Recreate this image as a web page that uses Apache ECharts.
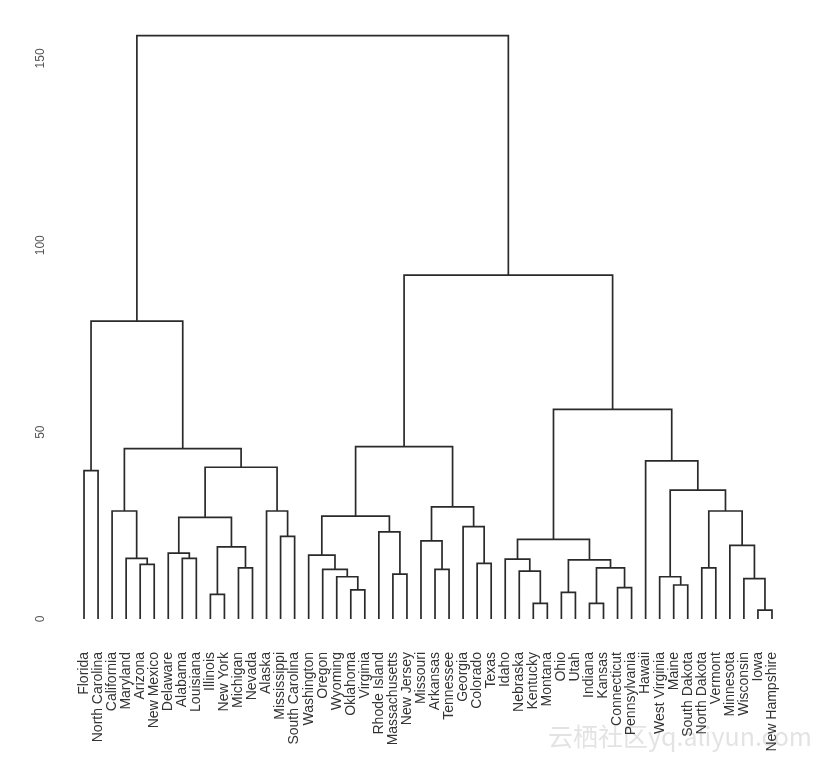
<!DOCTYPE html>
<html>
<head>
<meta charset="utf-8">
<script src="https://cdn.jsdelivr.net/npm/echarts@6/dist/echarts.min.js"></script>
<style>html,body{margin:0;padding:0;background:#fff;}#chart{width:833px;height:763px;}</style>
</head>
<body>
<div id="chart"></div>
<script>
// Leaf order (left to right)
const states = ["Florida","North Carolina","California","Maryland","Arizona","New Mexico","Delaware","Alabama","Louisiana","Illinois","New York","Michigan","Nevada","Alaska","Mississippi","South Carolina","Washington","Oregon","Wyoming","Oklahoma","Virginia","Rhode Island","Massachusetts","New Jersey","Missouri","Arkansas","Tennessee","Georgia","Colorado","Texas","Idaho","Nebraska","Kentucky","Montana","Ohio","Utah","Indiana","Kansas","Connecticut","Pennsylvania","Hawaii","West Virginia","Maine","South Dakota","North Dakota","Vermont","Minnesota","Wisconsin","Iowa","New Hampshire"];

// Merge steps: a string is a leaf (state), a number is an earlier merge row
const mergeLeft  = ["Florida","Arizona","Maryland","California","Alabama","Delaware","Illinois","Michigan",6,5,"Mississippi","Alaska",9,3,0,"Oklahoma","Wyoming","Oregon","Washington","Massachusetts","Rhode Island",18,"Arkansas","Missouri","Colorado","Georgia",23,21,"Kentucky","Nebraska","Idaho","Ohio","Indiana","Connecticut",32,31,30,"Maine","West Virginia","North Dakota","Iowa","Wisconsin","Minnesota",39,38,"Hawaii",36,27,14];
const mergeRight = ["North Carolina","New Mexico",1,2,"Louisiana",4,"New York","Nevada",7,8,"South Carolina",10,11,12,13,"Virginia",15,16,17,"New Jersey",19,20,"Tennessee",22,"Texas",24,25,26,"Montana",28,29,"Utah","Kansas","Pennsylvania",33,34,35,"South Dakota",37,"Vermont","New Hampshire",40,41,42,43,44,45,46,47];
const mergeHeight = [39.7,14.6,16.2,28.9,16.2,17.6,6.6,13.7,19.3,27.2,22.1,28.9,40.6,45.6,79.7,7.8,11.3,13.3,17.1,12.0,23.3,27.5,13.3,20.9,14.9,24.7,30.0,46.1,4.2,12.8,16.0,7.1,4.2,8.4,13.7,15.8,21.3,9.1,11.3,13.7,2.4,10.8,19.7,28.9,34.5,42.3,56.1,92.0,156.1];

const yTicks = [0, 50, 100, 150];

// Build link data from merges: [xLeft, hLeft, xRight, hRight, h]
const nodeX = [], links = [];
function pos(ref) {
  if (typeof ref === 'string') return [states.indexOf(ref), 0];
  return [nodeX[ref], mergeHeight[ref]];
}
for (let i = 0; i < mergeHeight.length; i++) {
  const L = pos(mergeLeft[i]), R = pos(mergeRight[i]);
  nodeX[i] = (L[0] + R[0]) / 2;
  links.push([L[0], L[1], R[0], R[1], mergeHeight[i]]);
}

const chart = echarts.init(document.getElementById('chart'), null, {renderer: 'canvas'});
chart.setOption({
  backgroundColor: '#fff',
  animation: false,
  grid: {left: 77, right: 54, top: 21, bottom: 144},
  xAxis: [{
    type: 'category', data: states, boundaryGap: true,
    axisLine: {show: false}, axisTick: {show: false}, splitLine: {show: false},
    axisLabel: {rotate: 90, margin: 33, interval: 0, fontSize: 14, color: '#333', fontFamily: 'Liberation Sans'}
  }, {
    type: 'value', min: -0.5, max: states.length - 0.5, show: false,
    axisLine: {show: false}, axisTick: {show: false}, splitLine: {show: false}, axisLabel: {show: false}
  }],
  yAxis: {
    type: 'value', min: 0, max: 160, interval: 50,
    axisLine: {show: false}, axisTick: {show: false}, splitLine: {show: false},
    axisLabel: {rotate: 90, margin: 30, fontSize: 12, color: '#555', fontFamily: 'Liberation Sans', showMaxLabel: false,
      formatter: v => yTicks.indexOf(v) >= 0 ? String(v) : ''}
  },
  graphic: [{
    type: 'text', left: 548, top: 724, silent: true,
    style: {text: '云栖社区yq.aliyun.com', fontSize: 25, fill: 'rgba(185,185,185,0.4)', fontFamily: 'Noto Sans CJK SC'}
  }],
  series: [{
    type: 'custom',
    xAxisIndex: 1,
    data: links,
    clip: false,
    renderItem: function (params, api) {
      const p1 = api.coord([api.value(0), api.value(1)]);
      const p2 = api.coord([api.value(0), api.value(4)]);
      const p3 = api.coord([api.value(2), api.value(4)]);
      const p4 = api.coord([api.value(2), api.value(3)]);
      return {
        type: 'polyline',
        shape: {points: [p1, p2, p3, p4]},
        style: {stroke: '#2a2a2a', lineWidth: 1.7, fill: null}
      };
    }
  }]
});
</script>
</body>
</html>
